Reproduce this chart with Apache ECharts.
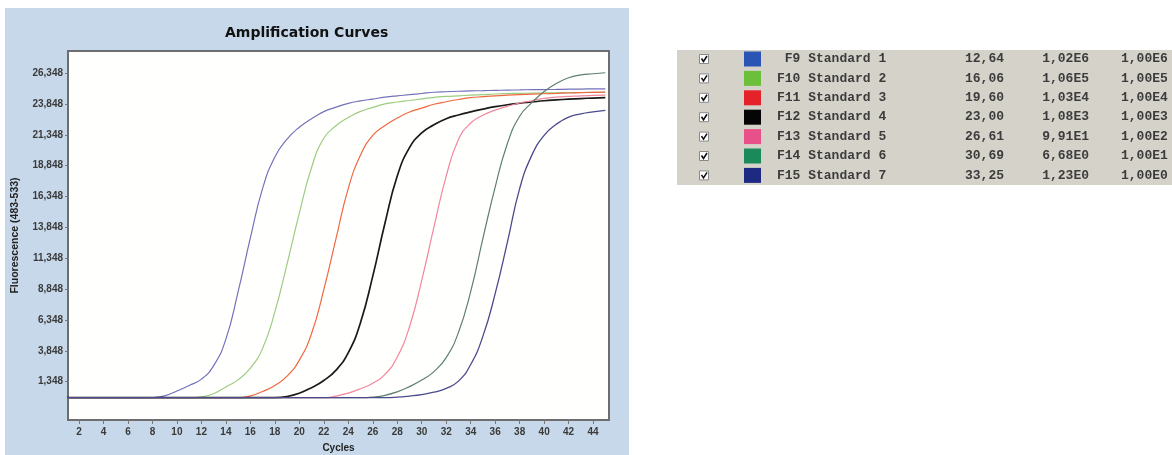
<!DOCTYPE html>
<html><head><meta charset="utf-8">
<script src="https://cdn.jsdelivr.net/npm/echarts@6/dist/echarts.min.js"></script>
<style>html,body{margin:0;padding:0;background:#ffffff}#c{width:1172px;height:455px}</style>
</head><body><div id="c"></div>
<script>
// ---------- data ----------
const cycles = [1,2,3,4,5,6,7,8,9,10,11,12,13,14,15,16,17,18,19,20,21,22,23,24,25,26,27,28,29,30,31,32,33,34,35,36,37,38,39,40,41,42,43,44,45];
const xTicks = [2,4,6,8,10,12,14,16,18,20,22,24,26,28,30,32,34,36,38,40,42,44];
const yTicks = [1348,3848,6348,8848,11348,13848,16348,18848,21348,23848,26348];

const std1 = [60,60,60,60,60,60,60,70,200,600,1050,1560,2650,4800,8650,13000,17000,19550,21000,21960,22650,23220,23580,23890,24090,24240,24390,24500,24590,24690,24790,24830,24870,24900,24920,24940,24960,24980,25000,25010,25020,25040,25050,25060,25070];
const std2 = [60,60,60,60,60,60,60,60,60,60,60,130,380,930,1500,2450,4050,7000,10900,15000,18700,21060,22080,22740,23240,23560,23845,24000,24120,24250,24380,24450,24500,24550,24600,24650,24680,24700,24720,24740,24750,24760,24770,24780,24790];
const std3 = [60,60,60,60,60,60,60,60,60,60,60,60,60,60,60,200,560,1050,1800,3100,5250,8800,12950,17000,19700,21300,22100,22700,23190,23500,23820,24020,24200,24350,24430,24500,24550,24590,24630,24670,24700,24730,24760,24780,24800];
const std4 = [60,60,60,60,60,60,60,60,60,60,60,60,60,60,60,60,60,60,150,420,870,1450,2290,3700,6150,9900,14200,18000,20300,21500,22150,22650,22950,23200,23420,23620,23780,23900,24000,24100,24170,24230,24280,24320,24350];
const std5 = [60,60,60,60,60,60,60,60,60,60,60,60,60,60,60,60,60,60,60,60,60,60,190,430,780,1230,1950,3350,5800,9560,13880,18000,20960,22300,22930,23340,23650,23920,24100,24300,24400,24450,24500,24530,24560];
const std6 = [60,60,60,60,60,60,60,60,60,60,60,60,60,60,60,60,60,60,60,60,60,60,60,60,60,110,250,530,950,1480,2170,3300,5340,8650,12960,17110,20640,22850,23950,24850,25500,25960,26190,26290,26370];
const std7 = [60,60,60,60,60,60,60,60,60,60,60,60,60,60,60,60,60,60,60,60,60,60,60,60,60,60,60,100,190,310,500,810,1400,2740,5040,8480,12650,16990,19700,21300,22200,22780,23040,23200,23320];

const seriesValues = [std1, std2, std3, std4, std5, std6, std7];
const sampleIds = ['F9','F10','F11','F12','F13','F14','F15'];
const sampleNames = ['Standard 1','Standard 2','Standard 3','Standard 4','Standard 5','Standard 6','Standard 7'];
const cpValues = ['12,64','16,06','19,60','23,00','26,61','30,69','33,25'];
const calcConc = ['1,02E6','1,06E5','1,03E4','1,08E3','9,91E1','6,68E0','1,23E0'];
const stdConc = ['1,00E6','1,00E5','1,00E4','1,00E3','1,00E2','1,00E1','1,00E0'];

// ---------- styles ----------
const lineColors = ['#7272bb','#9ccc80','#f06840','#1a1a1a','#f2879c','#5f7f6d','#4b4a8c'];
const lineWidths = [1.2,1.2,1.2,1.7,1.2,1.2,1.3];
const swatchColors = ['#2a55b5','#6cbf3a','#e5222a','#050505','#e8508a','#1a8a5a','#1e2a82'];

const chart = echarts.init(document.getElementById('c'), null, {renderer:'canvas'});

const series = seriesValues.map((vals, i) => ({
  name: sampleNames[i],
  type: 'line',
  data: cycles.map((c, k) => [c, vals[k]]),
  showSymbol: false,
  smooth: 0.5,
  clip: true,
  lineStyle: {color: lineColors[i], width: lineWidths[i]},
  itemStyle: {color: lineColors[i]},
  z: 3
}));

// table graphics
const graphics = [
  {type:'rect', z:-100, shape:{x:5, y:8, width:624, height:447}, style:{fill:'#c6d8ea'}},
  {type:'rect', z:-100, shape:{x:677, y:50, width:500, height:135}, style:{fill:'#d5d2ca'}}
];
const rowTop = 59, rowStep = 19.4;
sampleIds.forEach((id, i) => {
  const cy = rowTop + rowStep * i;
  graphics.push({type:'rect', shape:{x:699.5, y:cy-4.5, width:9, height:9}, style:{fill:'#ffffff', stroke:'#8a8a8a', lineWidth:1}});
  graphics.push({type:'polyline', shape:{points:[[701.5,cy-0.5],[703.5,cy+2.5],[707,cy-3]]}, style:{stroke:'#111', lineWidth:1.6, fill:null}});
  graphics.push({type:'rect', shape:{x:744, y:cy-7.5, width:17, height:15}, style:{fill:swatchColors[i]}});
  const label = (id.length < 3 ? ' ' + id : id) + ' ' + sampleNames[i];
  const tf = 'bold 13px "Liberation Mono", "DejaVu Sans Mono", monospace';
  const tc = '#3c3c3c';
  graphics.push({type:'text', x:777, y:cy, style:{text:label, font:tf, fill:tc, textAlign:'left', align:'left', textVerticalAlign:'middle', verticalAlign:'middle'}});
  graphics.push({type:'text', x:1004, y:cy, style:{text:cpValues[i], font:tf, fill:tc, textAlign:'right', align:'right', textVerticalAlign:'middle', verticalAlign:'middle'}});
  graphics.push({type:'text', x:1089, y:cy, style:{text:calcConc[i], font:tf, fill:tc, textAlign:'right', align:'right', textVerticalAlign:'middle', verticalAlign:'middle'}});
  graphics.push({type:'text', x:1121, y:cy, style:{text:stdConc[i], font:tf, fill:tc, textAlign:'left', align:'left', textVerticalAlign:'middle', verticalAlign:'middle'}});
});

const axisFont = {fontFamily:'Liberation Sans, Arial, sans-serif', fontWeight:'bold', fontSize:10, color:'#3a3a3a'};

chart.setOption({
  animation: false,
  backgroundColor: '#ffffff',
  title: {
    text: 'Amplification Curves', left: 225, top: 26, padding: 0,
    textStyle: {fontFamily:'DejaVu Sans', fontWeight:'bold', fontSize:14, color:'#111'}
  },
  graphic: {elements: graphics},
  grid: {left:68, top:51, width:541, height:369, show:true, containLabel:false, outerBoundsMode:'none',
         backgroundColor:'#fffffd', borderColor:'#6e6e6e', borderWidth:2},
  xAxis: {
    type:'value', min:1.1, max:45.3,
    name:'Cycles', nameLocation:'middle', nameGap:23,
    nameTextStyle:{fontFamily:'Liberation Sans, Arial, sans-serif', fontWeight:'bold', fontSize:10, color:'#222'},
    axisLine:{show:true, onZero:false, lineStyle:{color:'#6e6e6e', width:2}},
    axisTick:{show:true, inside:false, length:4, customValues:xTicks, lineStyle:{color:'#777'}},
    axisLabel:Object.assign({margin:7, customValues:xTicks}, axisFont),
    splitLine:{show:false}
  },
  yAxis: {
    type:'value', min:-1750, max:28130,
    name:'Fluorescence (483-533)', nameLocation:'middle', nameGap:47, nameRotate:90,
    nameTextStyle:{fontFamily:'Liberation Sans, Arial, sans-serif', fontWeight:'bold', fontSize:10.5, color:'#222'},
    axisLine:{show:true, onZero:false, lineStyle:{color:'#6e6e6e', width:2}},
    axisTick:{show:true, inside:false, length:3, customValues:yTicks, lineStyle:{color:'#777'}},
    axisLabel:Object.assign({margin:5, customValues:yTicks, formatter:v => Number(v).toLocaleString('en-US')}, axisFont),
    splitLine:{show:false}
  },
  series: series
});
</script>
</body></html>
